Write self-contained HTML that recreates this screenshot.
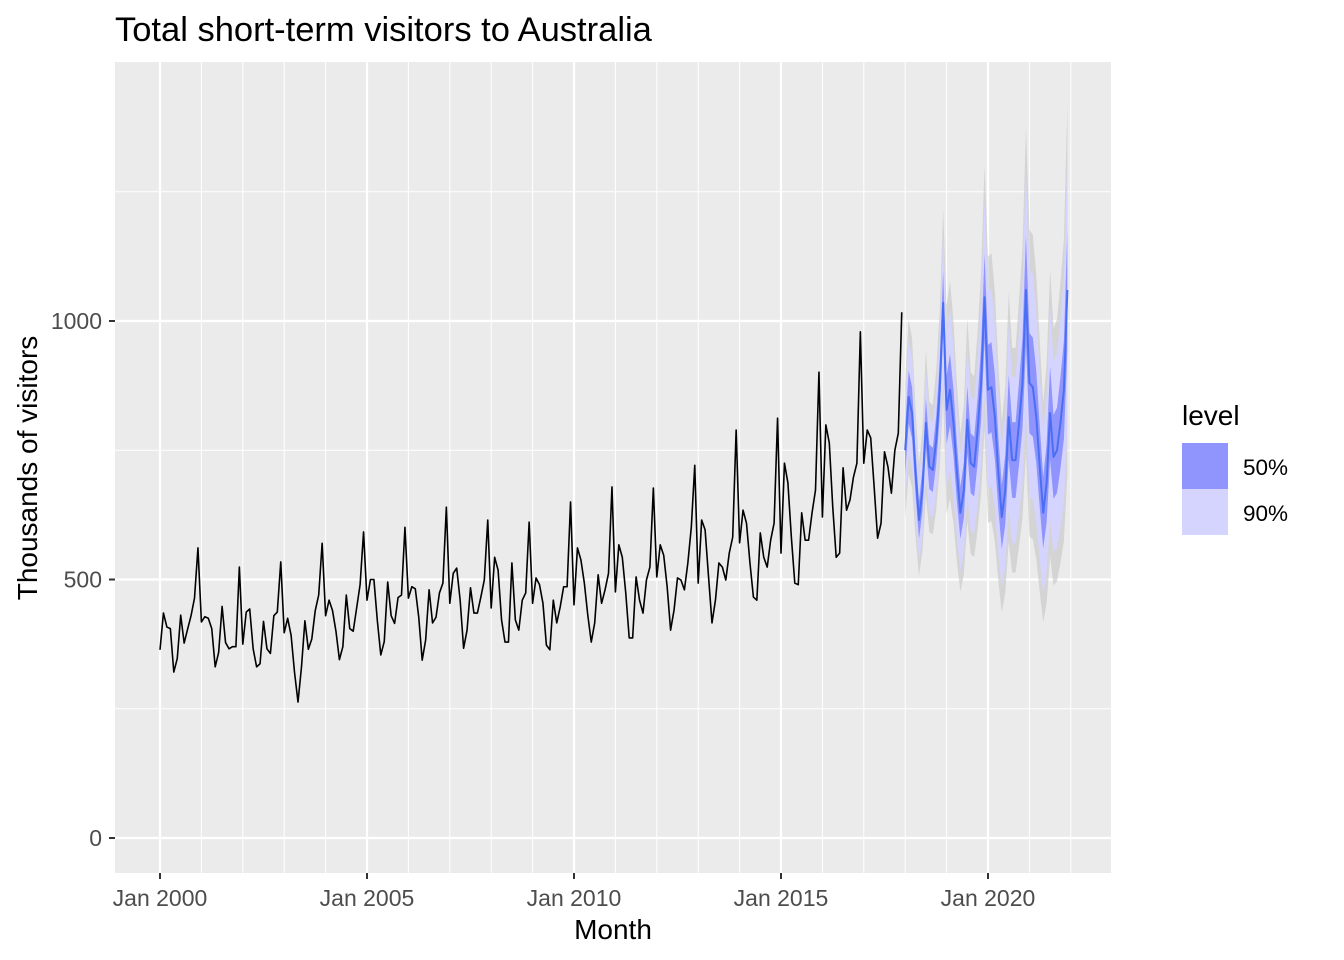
<!DOCTYPE html>
<html><head><meta charset="utf-8"><style>
html,body{margin:0;padding:0;background:#fff;}
svg{display:block;font-family:"Liberation Sans",Arial,sans-serif;}
</style></head><body>
<svg id="chart" width="1344" height="960" viewBox="0 0 1344 960">
<text x="115" y="41" font-size="34.5" fill="#000">Total short-term visitors to Australia</text>
<rect x="115" y="62" width="996" height="811" fill="#ebebeb"/>
<g id="grid"></g>
<g id="bands"></g>
<g id="lines"></g>
<g id="axes"></g>
<text x="613" y="939" font-size="28" text-anchor="middle" fill="#000">Month</text>
<text transform="translate(37,468) rotate(-90)" font-size="28" text-anchor="middle" fill="#000">Thousands of visitors</text>
<g>
<text x="1182" y="425" font-size="28" fill="#000">level</text>
<rect x="1182" y="443" width="46" height="46" fill="#8f95fc"/>
<rect x="1182" y="489" width="46" height="46" fill="#d4d4ff"/>
<text x="1243" y="475" font-size="22.5" fill="#000">50%</text>
<text x="1243" y="521" font-size="22.5" fill="#000">90%</text>
</g>
</svg>
<script>
const histValues = [
364,435,408,405,321,347,431,377,404,430,464,561,
418,428,425,405,331,359,448,378,366,370,370,524,
375,437,443,366,331,337,419,366,357,430,437,534,
397,425,392,320,263,330,420,365,385,440,470,570,
430,460,440,400,345,370,470,405,400,445,490,592,
460,500,500,420,354,380,495,430,415,465,470,601,
464,486,482,427,344,383,480,416,427,474,493,640,
454,512,522,460,367,402,484,435,435,466,499,615,
445,543,518,422,379,379,532,422,402,460,474,611,
454,503,490,454,373,364,460,416,447,486,486,650,
451,561,538,493,431,379,416,509,454,480,512,679,
476,567,543,474,387,387,505,460,435,499,524,677,
505,567,547,486,402,441,503,499,480,532,601,721,
493,615,596,505,416,460,532,524,499,551,582,789,
571,634,609,532,466,460,590,543,524,576,609,812,
551,725,687,582,493,490,629,576,576,629,673,901,
621,799,764,640,543,551,716,634,654,698,725,979,
725,789,774,679,580,609,747,718,667,750,783,1017];
const fcMean = [
750,853,822,706,615,673,803,718,712,770,867,1035,
828,867,803,706,629,673,809,725,718,789,880,1046,
867,872,814,706,621,673,814,731,731,803,880,1060,
880,872,814,718,629,687,822,737,750,803,867,1060];
const width50ByYear = [0.06,0.08,0.10,0.11];
const width90ByYear = [0.13,0.18,0.22,0.25];
const yTicks = [0,500,1000];
const yTickLabels = ["0","500","1000"];
const xTickYears = [2000,2005,2010,2015,2020];
const xTickLabels = ["Jan 2000","Jan 2005","Jan 2010","Jan 2015","Jan 2020"];

const NS="http://www.w3.org/2000/svg";
const X0=160, PXM=207/60;
const xOf = m => X0 + m*PXM;
const yOf = v => 838 - v*(517/1000);
function mk(tag, attrs, parent){const e=document.createElementNS(NS,tag);for(const k in attrs)e.setAttribute(k,attrs[k]);parent.appendChild(e);return e;}
const grid=document.getElementById('grid'), bands=document.getElementById('bands'), lines=document.getElementById('lines'), axes=document.getElementById('axes');

[250,750,1250].forEach(v=>{const l=mk('line',{x1:115,x2:1111,y1:yOf(v),y2:yOf(v),stroke:'#fff','stroke-width':1},grid);

});
for(let yr=2000;yr<=2022;yr++){const x=xOf((yr-2000)*12); if(x<115||x>1111)continue;
 const major = xTickYears.includes(yr);
 const l=mk('line',{x1:x,x2:x,y1:62,y2:873,stroke:'#fff','stroke-width':major?2.2:1},grid);
 
 }
yTicks.forEach((v,i)=>{const y=yOf(v);
 const l=mk('line',{x1:115,x2:1111,y1:y,y2:y,stroke:'#fff','stroke-width':2.2},grid);
 
 
 const t=mk('line',{x1:109,x2:115,y1:y,y2:y,stroke:'#333','stroke-width':2},axes);
 
 
 const tx=mk('text',{x:102,y:y+8,'font-size':23,'text-anchor':'end',fill:'#4d4d4d'},axes);tx.textContent=yTickLabels[i];
 
 });
xTickYears.forEach((yr,i)=>{const x=xOf((yr-2000)*12);
 const t=mk('line',{x1:x,x2:x,y1:873,y2:879,stroke:'#333','stroke-width':2},axes);
 
 
 const tx=mk('text',{x:x,y:906,'font-size':23,'text-anchor':'middle',fill:'#4d4d4d'},axes);tx.textContent=xTickLabels[i];
 
 });

const fStart = histValues.length;
function band(mult, fill, op, name){
 let up=[],dn=[];
 fcMean.forEach((v,i)=>{const w=mult(Math.floor(i/12));const x=xOf(fStart+i);up.push(x+','+yOf(v*(1+w)));dn.unshift(x+','+yOf(v*(1-w)));});
 const p=mk('polygon',{points:up.concat(dn).join(' '),fill:fill,'fill-opacity':op},bands);
 
 
}
band(k=>width90ByYear[k]*1.35,'#c4c4c4',0.6,'sample-path-range');
band(k=>width90ByYear[k],'#d4d4ff',1,'interval-90');
band(k=>width50ByYear[k],'#8f95fc',1,'interval-50');

const hp=mk('polyline',{points:histValues.map((v,i)=>xOf(i)+','+yOf(v)).join(' '),fill:'none',stroke:'#000','stroke-width':1.6,'stroke-linejoin':'round'},lines);


const fp=mk('polyline',{points:fcMean.map((v,i)=>xOf(fStart+i)+','+yOf(v)).join(' '),fill:'none',stroke:'#4a6ff5','stroke-width':2,'stroke-linejoin':'round'},lines);


</script>
</body></html>
